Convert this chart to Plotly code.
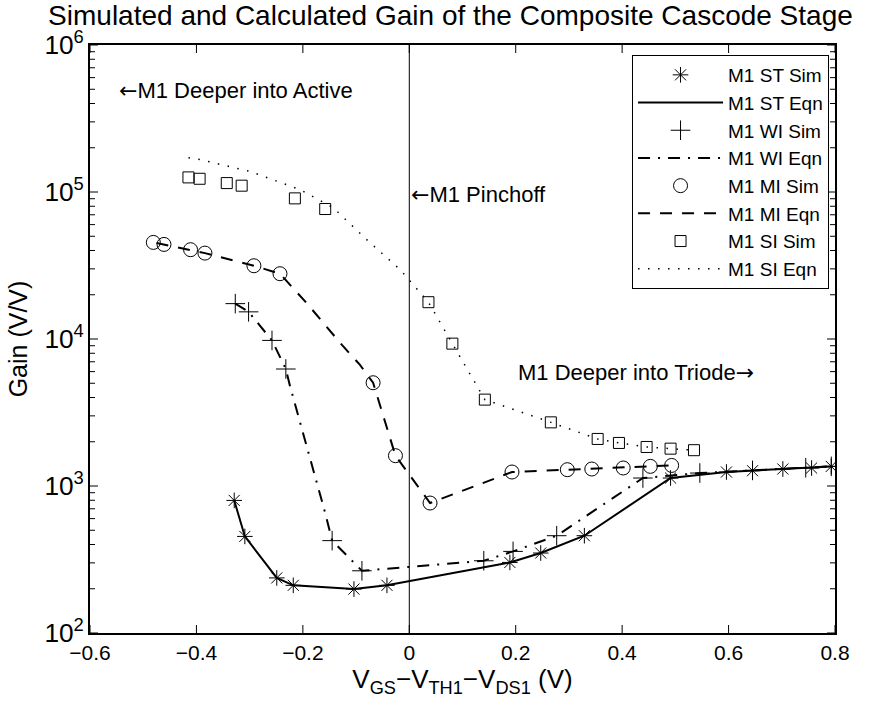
import plotly.graph_objects as go

# Overdrive voltage V_GS - V_TH1 - V_DS1 (V) and gain (V/V) for each inversion level of M1
st_sim_x = [-0.329, -0.309, -0.249, -0.218, -0.104, -0.042, 0.189, 0.247, 0.329, 0.491, 0.596, 0.645, 0.702, 0.756, 0.793]
st_sim_y = [798, 454, 237, 211, 199, 211, 302, 350, 459, 1133, 1245, 1271, 1305, 1325, 1359]
st_eqn_x = [-0.329, -0.309, -0.249, -0.218, -0.104, -0.042, 0.189, 0.247, 0.329, 0.491, 0.596, 0.645, 0.702, 0.756, 0.793]
st_eqn_y = [798, 454, 237, 211, 199, 211, 302, 350, 459, 1133, 1245, 1271, 1305, 1325, 1359]

wi_sim_x = [-0.327, -0.302, -0.258, -0.232, -0.145, -0.089, 0.140, 0.195, 0.277, 0.439, 0.546, 0.645, 0.745, 0.793]
wi_sim_y = [17400, 15300, 9780, 6250, 425, 265, 310, 359, 459, 1133, 1225, 1277, 1331, 1360]
wi_eqn_x = [-0.327, -0.302, -0.258, -0.232, -0.224, -0.2085, -0.1915, -0.174, -0.158, -0.145, -0.089,
            0.140, 0.195, 0.277, 0.439, 0.546, 0.645, 0.745, 0.793]
wi_eqn_y = [17400, 15300, 9780, 6250, 4760, 2975, 1765, 1075, 655, 425, 265,
            310, 359, 459, 1133, 1225, 1277, 1331, 1360]

mi_sim_x = [-0.481, -0.461, -0.411, -0.384, -0.292, -0.243, -0.068, -0.026, 0.039, 0.193, 0.297, 0.343, 0.402, 0.453, 0.493]
mi_sim_y = [45400, 44000, 40500, 38400, 31500, 27800, 5040, 1608, 766, 1245, 1291, 1305, 1326, 1360, 1380]
mi_eqn_x = [-0.475, -0.411, -0.384, -0.292, -0.243, -0.193, -0.158, -0.127, -0.093, -0.068, -0.026,
            0.039, 0.193, 0.297, 0.343, 0.402, 0.453, 0.49]
mi_eqn_y = [45000, 40500, 38400, 31500, 27800, 17580, 12500, 9150, 6690, 5040, 1608,
            766, 1245, 1291, 1305, 1326, 1360, 1380]

si_sim_x = [-0.415, -0.394, -0.343, -0.315, -0.215, -0.158, 0.036, 0.081, 0.142, 0.266, 0.354, 0.394, 0.446, 0.491, 0.535]
si_sim_y = [125700, 123000, 115000, 110400, 90500, 76600, 17800, 9300, 3870, 2710, 2090, 1963, 1843, 1795, 1752]
si_eqn_x = [-0.415, -0.393, -0.299, -0.205, -0.143, -0.080, -0.017, 0.011, 0.036, 0.081, 0.142,
            0.266, 0.354, 0.394, 0.446, 0.491, 0.535]
si_eqn_y = [171000, 166000, 138000, 103700, 78200, 47400, 29600, 22800, 17800, 9300, 3870,
            2710, 2090, 1963, 1843, 1795, 1752]

x_ticks = [-0.6, -0.4, -0.2, 0, 0.2, 0.4, 0.6, 0.8]
x_tick_text = ["\u22120.6", "\u22120.4", "\u22120.2", "0", "0.2", "0.4", "0.6", "0.8"]
y_decades = [2, 3, 4, 5, 6]
y_minor_mult = [2, 3, 4, 5, 6, 7, 8, 9]

FONT = "Liberation Sans, Arial, Helvetica, sans-serif"
ARROW_FONT = "DejaVu Sans"
BLACK = "#000000"

# plot-area size in px, used to turn tick lengths into paper fractions
PLOT_W = 892 - 90 - 57
PLOT_H = 711 - 45 - 78
MAJOR_LEN = 8
MINOR_LEN = 5

fig = go.Figure()


def add_sim(name, xs, ys, symbol, size):
    fig.add_trace(go.Scatter(
        x=xs, y=ys, name=name, mode="markers",
        marker=dict(symbol=symbol, size=size, color=BLACK,
                    line=dict(color=BLACK, width=1)),
    ))


def add_eqn(name, xs, ys, dash, width):
    fig.add_trace(go.Scatter(
        x=xs, y=ys, name=name, mode="lines",
        line=dict(color=BLACK, width=width, dash=dash),
    ))


add_sim("M1 ST Sim", st_sim_x, st_sim_y, "asterisk-open", 13)
add_eqn("M1 ST Eqn", st_eqn_x, st_eqn_y, "solid", 2)
add_sim("M1 WI Sim", wi_sim_x, wi_sim_y, "cross-thin-open", 14)
add_eqn("M1 WI Eqn", wi_eqn_x, wi_eqn_y, "12px,8px,2px,8px", 2)
add_sim("M1 MI Sim", mi_sim_x, mi_sim_y, "circle-open", 14)
add_eqn("M1 MI Eqn", mi_eqn_x, mi_eqn_y, "12px,10px", 2)
add_sim("M1 SI Sim", si_sim_x, si_sim_y, "square-open", 11)
add_eqn("M1 SI Eqn", si_eqn_x, si_eqn_y, "1.5px,8.5px", 1.5)

tick_line = dict(color=BLACK, width=1)

# Inward tick marks on all four sides of the frame
for xv in x_ticks:
    fx = MAJOR_LEN / PLOT_H
    fig.add_shape(type="line", xref="x", yref="paper", x0=xv, x1=xv, y0=0, y1=fx, line=tick_line)
    fig.add_shape(type="line", xref="x", yref="paper", x0=xv, x1=xv, y0=1 - fx, y1=1, line=tick_line)

for d in y_decades:
    fy = MAJOR_LEN / PLOT_W
    yv = 10 ** d
    fig.add_shape(type="line", xref="paper", yref="y", x0=0, x1=fy, y0=yv, y1=yv, line=tick_line)
    fig.add_shape(type="line", xref="paper", yref="y", x0=1 - fy, x1=1, y0=yv, y1=yv, line=tick_line)
    if d == y_decades[-1]:
        continue
    for m in y_minor_mult:
        fm = MINOR_LEN / PLOT_W
        yv = m * 10 ** d
        fig.add_shape(type="line", xref="paper", yref="y", x0=0, x1=fm, y0=yv, y1=yv, line=tick_line)
        fig.add_shape(type="line", xref="paper", yref="y", x0=1 - fm, x1=1, y0=yv, y1=yv, line=tick_line)

# Pinch-off boundary
fig.add_shape(type="line", xref="x", yref="paper", x0=0, x1=0, y0=0, y1=1,
              line=dict(color=BLACK, width=1))


def arrow(ch):
    return f"<span style='font-family:{ARROW_FONT}'>{ch}</span>"


notes = [
    (-0.549, 5.689, arrow("\u2190") + "M1 Deeper into Active"),
    (0.0, 4.982, arrow("\u2190") + "M1 Pinchoff"),
    (0.200, 3.771, "M1 Deeper into Triode" + arrow("\u2192")),
]
for nx, ny, txt in notes:
    fig.add_annotation(x=nx, y=ny, xref="x", yref="y", text=txt, showarrow=False,
                       xanchor="left", yanchor="middle",
                       font=dict(family=FONT, size=22, color=BLACK))

fig.update_layout(
    width=892, height=711,
    margin=dict(l=90, r=57, t=45, b=78),
    paper_bgcolor="white", plot_bgcolor="white",
    font=dict(family=FONT, size=21, color=BLACK),
    title=dict(text="Simulated and Calculated Gain of the Composite Cascode Stage",
               x=0.505, xref="container", xanchor="center",
               y=0.979, yref="container", yanchor="middle",
               font=dict(family=FONT, size=28, color=BLACK)),
    showlegend=True,
    legend=dict(x=0.992, y=0.983, xanchor="right", yanchor="top",
                bgcolor="white", bordercolor=BLACK, borderwidth=1,
                font=dict(family=FONT, size=19, color=BLACK),
                itemwidth=85, tracegroupgap=0),
)

fig.update_xaxes(
    range=[-0.6, 0.8], tickvals=x_ticks, ticktext=x_tick_text,
    ticks="", showline=True, linecolor=BLACK, linewidth=2, mirror=True,
    showgrid=False, zeroline=False,
    tickfont=dict(family=FONT, size=21, color=BLACK),
    title=dict(text="V<sub>GS</sub>\u2212V<sub>TH1</sub>\u2212V<sub>DS1</sub> (V)",
               font=dict(family=FONT, size=26, color=BLACK), standoff=6),
)

fig.update_yaxes(
    type="log", range=[2, 6], dtick=1, exponentformat="power",
    ticks="", showline=True, linecolor=BLACK, linewidth=2, mirror=True,
    showgrid=False, zeroline=False,
    tickfont=dict(family=FONT, size=21, color=BLACK),
    title=dict(text="Gain (V/V)", font=dict(family=FONT, size=25, color=BLACK), standoff=10),
)

fig.write_html("out.html")
